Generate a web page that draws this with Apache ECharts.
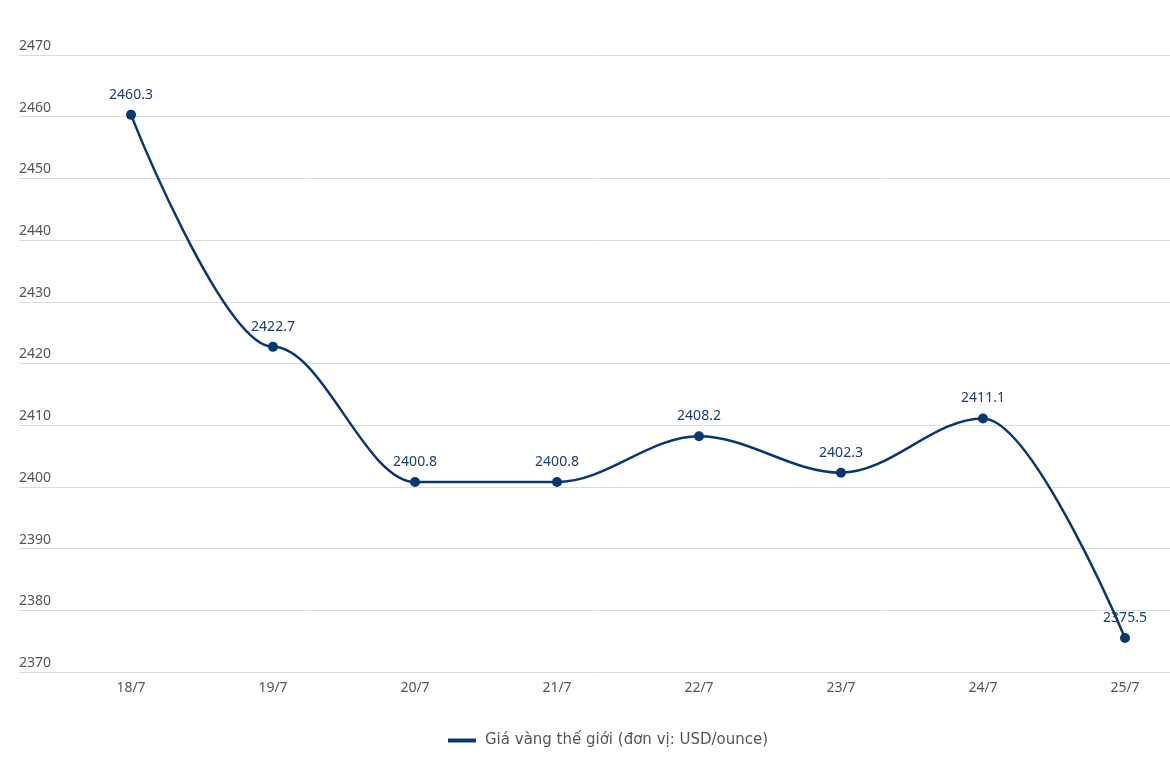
<!DOCTYPE html>
<html>
<head>
<meta charset="utf-8">
<script src="https://cdn.jsdelivr.net/npm/echarts@6/dist/echarts.min.js"></script>
<style>
  html, body { margin: 0; padding: 0; background: #fff; }
  #main { width: 1170px; height: 772px; }
</style>
</head>
<body>
<div id="main"></div>
<script>
// du lieu
var days = ['18/7', '19/7', '20/7', '21/7', '22/7', '23/7', '24/7', '25/7']
var goldPrice = [2460.3, 2422.7, 2400.8, 2400.8, 2408.2, 2402.3, 2411.1, 2375.5]
var seriesName = 'Giá vàng thế giới (đơn vị: USD/ounce)'
var yMin = 2370
var yMax = 2470
var yStep = 10

var navy = '#0c376b'
var myChart = echarts.init(document.getElementById('main'))

var option = {
  animation: false,
  textStyle: { fontFamily: 'Noto Sans' },
  // grid 0: chi de ve duong luoi ngang, grid 1: ve duong gia
  grid: [
    { left: 19, right: 0, top: 55, bottom: 100 },
    { left: 131, right: 45, top: 55, bottom: 100 }
  ],
  legend: {
    left: 443,
    top: 728,
    icon: 'rect',
    itemWidth: 28,
    itemHeight: 4,
    itemGap: 10,
    textStyle: { color: '#555', fontSize: 15, fontFamily: 'DejaVu Sans', padding: [0, 0, 0, 4] },
    data: [seriesName]
  },
  xAxis: [
    {
      gridIndex: 0,
      type: 'category',
      data: days,
      show: false
    },
    {
      gridIndex: 1,
      type: 'category',
      data: days,
      boundaryGap: false,
      axisLine: { show: false },
      axisTick: { show: false },
      axisLabel: { color: '#555', fontSize: 14, margin: 9 },
      splitLine: { show: false }
    }
  ],
  yAxis: [
    {
      gridIndex: 0,
      type: 'value',
      min: yMin,
      max: yMax,
      interval: yStep,
      axisLine: { show: false },
      axisTick: { show: false },
      axisLabel: {
        inside: true,
        verticalAlign: 'bottom',
        margin: 0,
        padding: [0, 0, 2, 0],
        color: '#555',
        fontSize: 14,
        formatter: function (v) { return String(v) }
      },
      splitLine: { lineStyle: { color: '#dcdcdc', width: 1 } }
    },
    {
      gridIndex: 1,
      type: 'value',
      min: yMin,
      max: yMax,
      interval: yStep,
      show: false
    }
  ],
  series: [
    {
      name: seriesName,
      type: 'line',
      xAxisIndex: 1,
      yAxisIndex: 1,
      data: goldPrice,
      smooth: 0.35,
      smoothMonotone: 'x',
      symbol: 'circle',
      symbolSize: 10,
      itemStyle: { color: navy },
      lineStyle: { color: navy, width: 2.5 },
      label: {
        show: true,
        position: 'top',
        distance: 8,
        color: '#1d3d6b',
        fontSize: 14
      }
    }
  ]
}

myChart.setOption(option)
</script>
</body>
</html>
